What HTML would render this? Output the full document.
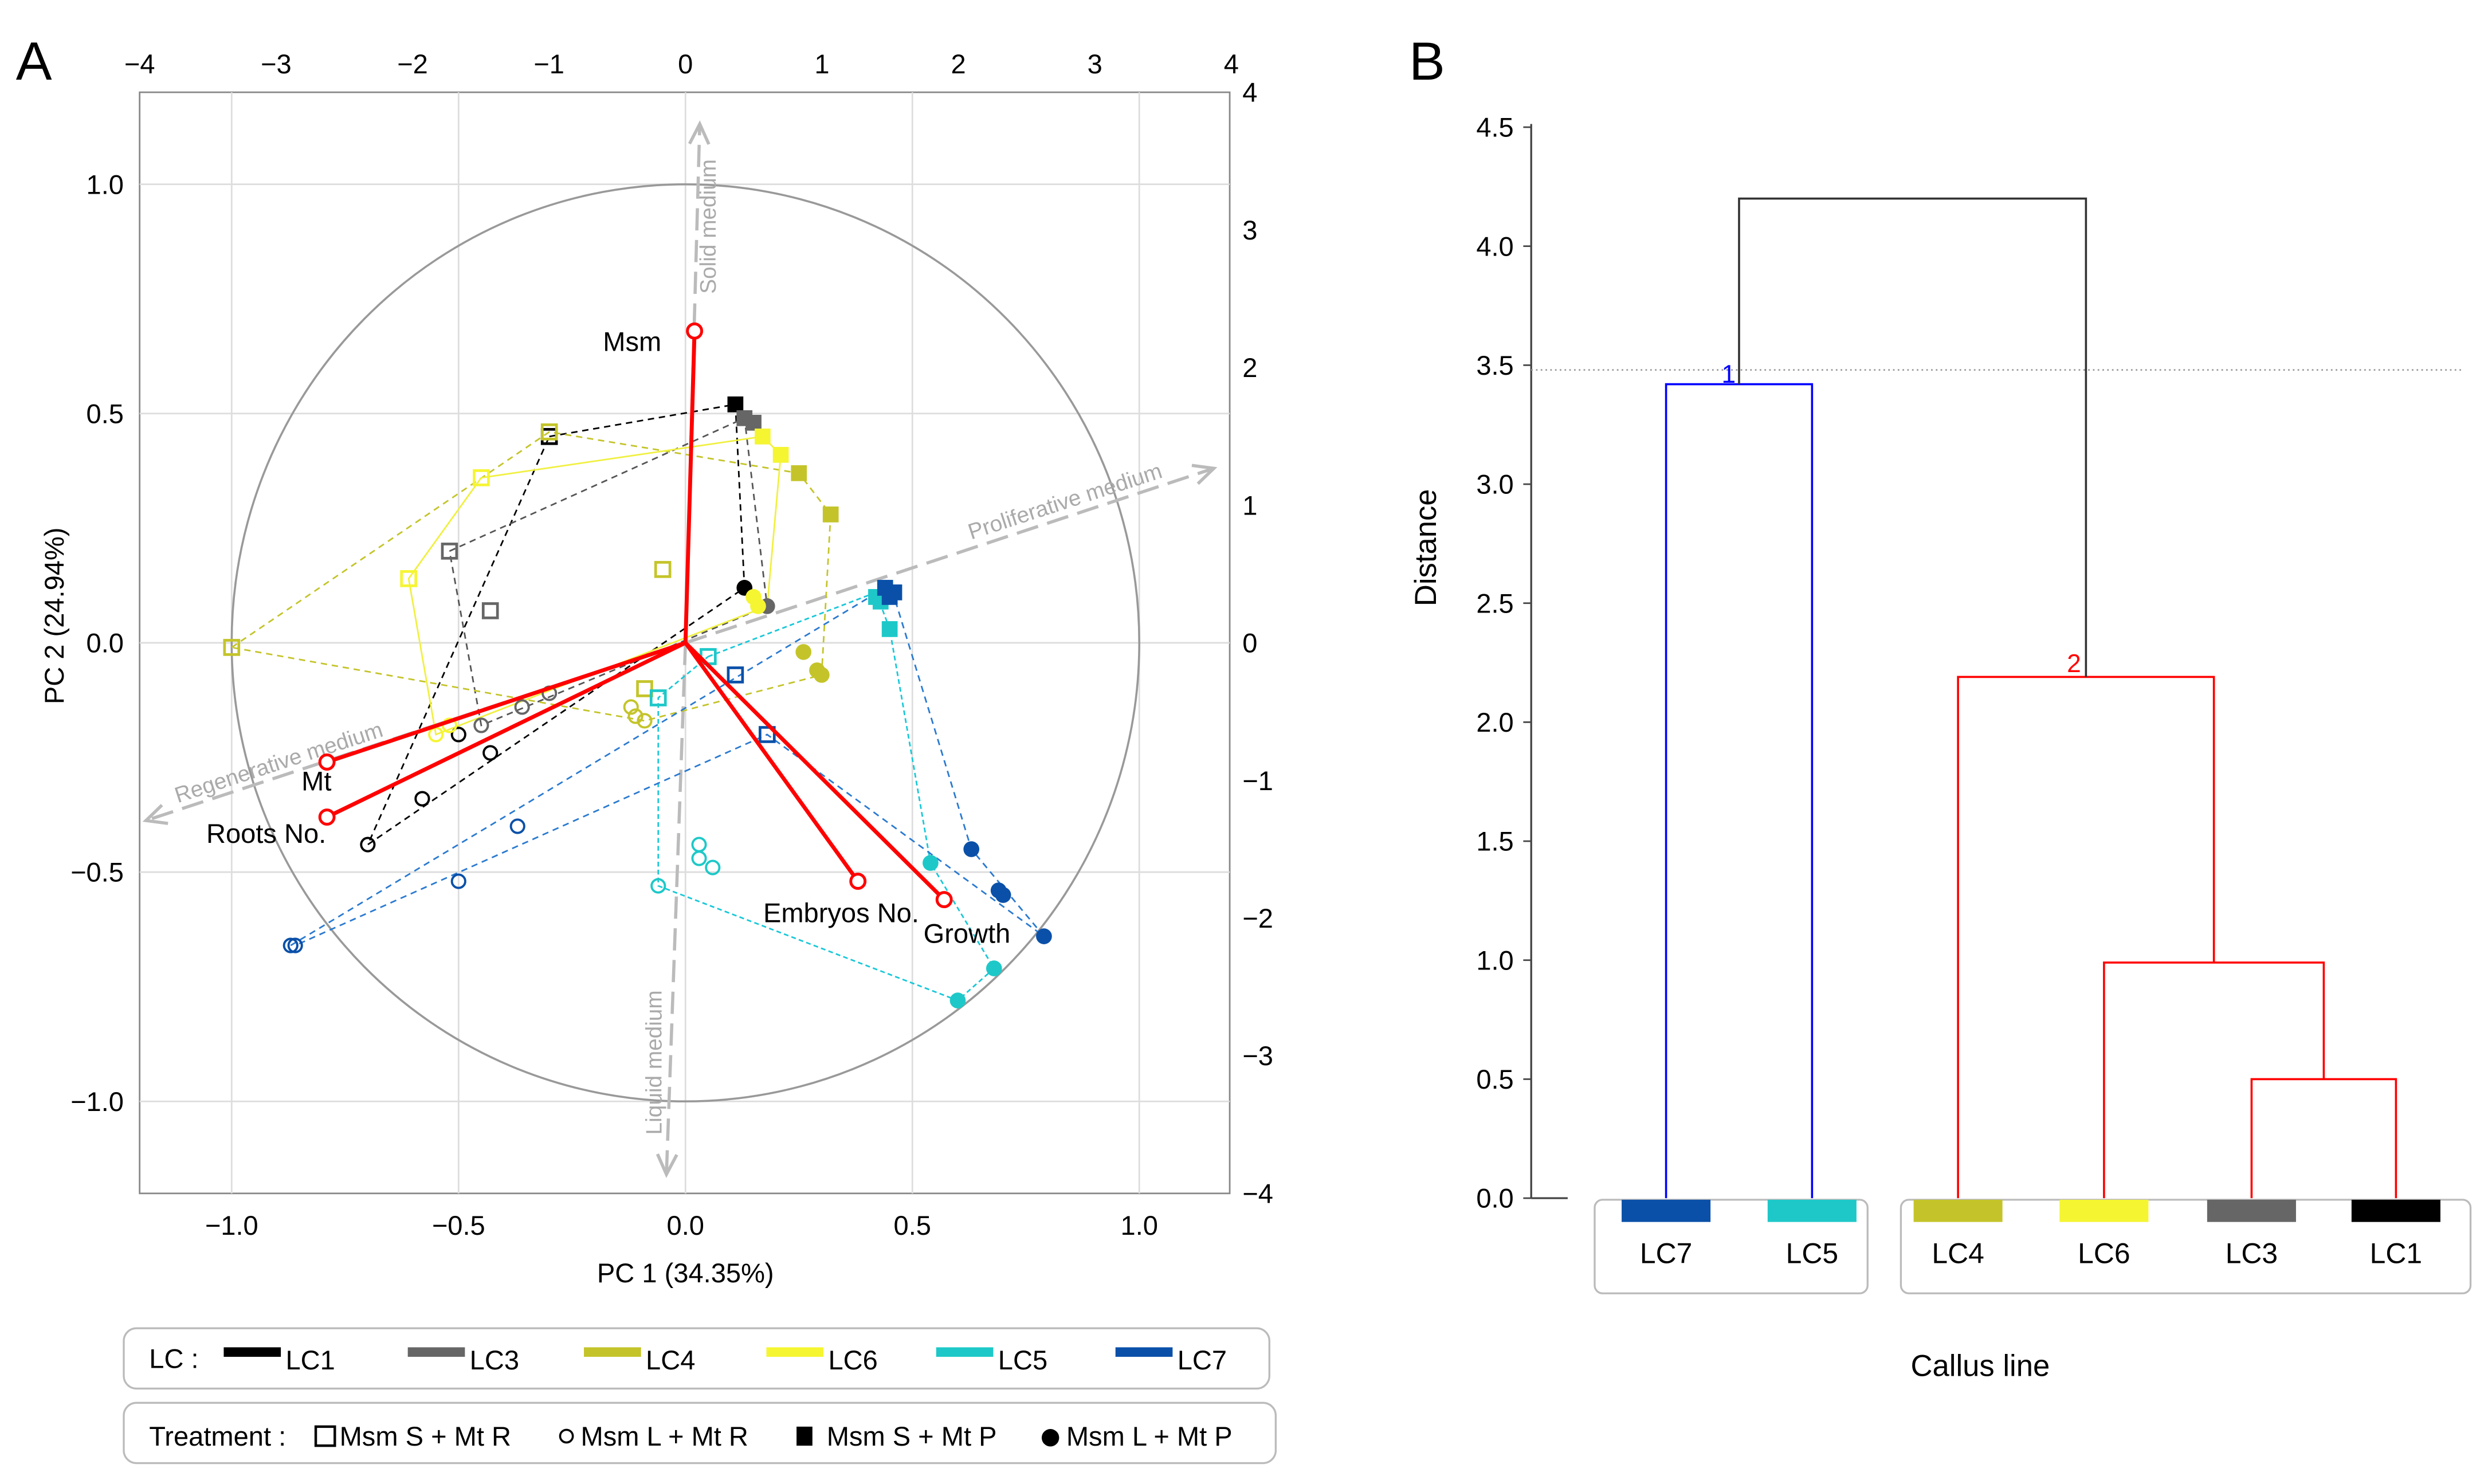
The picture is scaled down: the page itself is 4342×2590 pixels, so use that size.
<!DOCTYPE html>
<html><head><meta charset="utf-8"><style>html,body{margin:0;padding:0;background:#fff}svg{display:block}text{font-family:"Liberation Sans",Arial,sans-serif}</style></head>
<body>
<svg id="s" width="4342" height="2590" viewBox="0 0 1568 935" xmlns="http://www.w3.org/2000/svg">
<rect width="1568" height="935" fill="#fff"/>
<g id="A"></g>
<g id="B"></g>
</svg>
<script>
const pcTicks=[-1.0,-0.5,0.0,0.5,1.0];
const scoreTicks=[-4,-3,-2,-1,0,1,2,3,4];
const lcNames=['LC1','LC3','LC4','LC6','LC5','LC7'];
const lcColors=['#000000','#666666','#c4c42a','#f5f532','#1ec8c8','#0a50a8'];
const lineColors=['#000000','#555555','#c4c42a','#f0f040','#18c8d8','#2a7ad0'];
const lcDash=['4,3','4,3','4,3','','3,2','4,3'];
const ptsLC1=[[-0.30,0.45,'s'],[0.11,0.52,'S'],[0.13,0.12,'C'],[-0.50,-0.20,'c'],[-0.43,-0.24,'c'],[-0.58,-0.34,'c'],[-0.70,-0.44,'c']];
const ptsLC3=[[-0.52,0.20,'s'],[-0.43,0.07,'s'],[0.13,0.49,'S'],[0.15,0.48,'S'],[0.18,0.08,'C'],[-0.30,-0.11,'c'],[-0.36,-0.14,'c'],[-0.45,-0.18,'c']];
const ptsLC4=[[-1.0,-0.01,'s'],[-0.30,0.46,'s'],[-0.05,0.16,'s'],[-0.09,-0.10,'s'],[0.25,0.37,'S'],[0.32,0.28,'S'],[0.26,-0.02,'C'],[0.29,-0.06,'C'],[0.30,-0.07,'C'],[-0.12,-0.14,'c'],[-0.11,-0.16,'c'],[-0.09,-0.17,'c']];
const ptsLC6=[[-0.45,0.36,'s'],[-0.61,0.14,'s'],[0.17,0.45,'S'],[0.21,0.41,'S'],[0.15,0.10,'C'],[0.16,0.08,'C'],[-0.55,-0.20,'c'],[-0.52,-0.18,'c']];
const ptsLC5=[[0.05,-0.03,'s'],[-0.06,-0.12,'s'],[0.42,0.10,'S'],[0.43,0.09,'S'],[0.45,0.03,'S'],[0.54,-0.48,'C'],[0.68,-0.71,'C'],[0.60,-0.78,'C'],[0.03,-0.44,'c'],[0.03,-0.47,'c'],[0.06,-0.49,'c'],[-0.06,-0.53,'c']];
const ptsLC7=[[0.11,-0.07,'s'],[0.18,-0.20,'s'],[0.44,0.12,'S'],[0.45,0.10,'S'],[0.46,0.11,'S'],[0.63,-0.45,'C'],[0.69,-0.54,'C'],[0.70,-0.55,'C'],[0.79,-0.64,'C'],[-0.87,-0.66,'c'],[-0.86,-0.66,'c'],[-0.50,-0.52,'c'],[-0.37,-0.40,'c']];
const hullLC1=[[-0.30,0.45],[0.11,0.52],[0.13,0.12],[-0.70,-0.44],[-0.30,0.45]];
const hullLC3=[[-0.52,0.20],[0.13,0.49],[0.18,0.08],[-0.45,-0.18],[-0.52,0.20]];
const hullLC4=[[-1.0,-0.01],[-0.30,0.46],[0.25,0.37],[0.32,0.28],[0.30,-0.07],[-0.09,-0.17],[-1.0,-0.01]];
const hullLC6=[[-0.45,0.36],[0.17,0.45],[0.21,0.41],[0.18,0.08],[-0.55,-0.20],[-0.61,0.14],[-0.45,0.36]];
const hullLC5=[[0.05,-0.03],[0.42,0.11],[0.45,0.03],[0.54,-0.48],[0.68,-0.71],[0.60,-0.78],[-0.06,-0.53],[-0.06,-0.12],[0.05,-0.03]];
const hullLC7=[[-0.87,-0.66],[0.44,0.12],[0.46,0.10],[0.63,-0.45],[0.79,-0.64],[0.18,-0.20],[-0.86,-0.66]];
const varNames=['Msm','Mt','Roots No.','Embryos No.','Growth'];
const varX=[0.02,-0.79,-0.79,0.38,0.57];
const varY=[0.68,-0.26,-0.38,-0.52,-0.56];
const leafNames=['LC7','LC5','LC4','LC6','LC3','LC1'];
const leafColors=['#0a50a8','#1ec8c8','#c4c42a','#f5f532','#666666','#000000'];
const distTicks=[0.0,0.5,1.0,1.5,2.0,2.5,3.0,3.5,4.0,4.5];
const mergeLC3LC1=0.50, mergeLC6=0.99, mergeLC4=2.19, mergeLC7LC5=3.42, mergeTop=4.20, cutHeight=3.48;

const NS='http://www.w3.org/2000/svg';
function mk(p,t,a,txt){const e=document.createElementNS(NS,t);for(const k in a)e.setAttribute(k,a[k]);if(txt!==undefined)e.textContent=txt;p.appendChild(e);return e;}
const X=v=>432+286*v, Y=v=>405-289*v, TX=v=>432+86*v, TY=v=>405-86.75*v;
const A=document.getElementById('A');
let fr=mk(A,'rect',{x:88,y:58,width:687,height:694,fill:'none',stroke:'#888','stroke-width':1});

pcTicks.forEach(v=>{
 let g=mk(A,'line',{x1:X(v),x2:X(v),y1:58,y2:752,stroke:'#ddd','stroke-width':1});
 
 g=mk(A,'line',{x1:88,x2:775,y1:Y(v),y2:Y(v),stroke:'#ddd','stroke-width':1});
 
 let t=mk(A,'text',{x:X(v),y:778,'font-size':17,'text-anchor':'middle'},v.toFixed(1).replace('-','−'));
 
 t=mk(A,'text',{x:78,y:Y(v)+6,'font-size':17,'text-anchor':'end'},v.toFixed(1).replace('-','−'));
 
});
scoreTicks.forEach(v=>{
 let t=mk(A,'text',{x:TX(v),y:46,'font-size':17,'text-anchor':'middle'},String(v).replace('-','−'));
 
 t=mk(A,'text',{x:783,y:TY(v)+6,'font-size':17},String(v).replace('-','−'));
 
});
let c=mk(A,'ellipse',{cx:X(0),cy:Y(0),rx:286,ry:289,fill:'none',stroke:'#999','stroke-width':1.3});

const med=[['Solid medium',441,78,451,185,-90],['Liquid medium',420,740,417,715,-90],['Proliferative medium',765,295,612,340,-18],['Regenerative medium',92,517,112,506,-18]];
med.forEach(m=>{
 let l=mk(A,'line',{x1:432,y1:405,x2:m[1],y2:m[2],stroke:'#bbb','stroke-width':2,'stroke-dasharray':'14,6'});
 
 const ang=Math.atan2(m[2]-405,m[1]-432);
 const p=[[m[1],m[2]],[m[1]-14*Math.cos(ang-0.45),m[2]-14*Math.sin(ang-0.45)],[m[1]-14*Math.cos(ang+0.45),m[2]-14*Math.sin(ang+0.45)]];
 let h=mk(A,'polyline',{points:`${p[1]} ${p[0]} ${p[2]}`,fill:'none',stroke:'#bbb','stroke-width':2});
 
 let t=mk(A,'text',{x:m[3],y:m[4],'font-size':14,fill:'#aaa',transform:`rotate(${m[5]} ${m[3]} ${m[4]})`},m[0]);
 
});
const pts=[ptsLC1,ptsLC3,ptsLC4,ptsLC6,ptsLC5,ptsLC7], hulls=[hullLC1,hullLC3,hullLC4,hullLC6,hullLC5,hullLC7];
hulls.forEach((h,i)=>{
 let p=mk(A,'polyline',{points:h.map(q=>X(q[0])+','+Y(q[1])).join(' '),fill:'none',stroke:lineColors[i],'stroke-width':1,'stroke-dasharray':lcDash[i]});
 
});
pts.forEach((ps,i)=>ps.forEach(q=>{
 const x=X(q[0]),y=Y(q[1]),col=lcColors[i];let e;
 if(q[2]==='s')e=mk(A,'rect',{x:x-4.5,y:y-4.5,width:9,height:9,fill:'none',stroke:col,'stroke-width':1.7});
 else if(q[2]==='S')e=mk(A,'rect',{x:x-5,y:y-5,width:10,height:10,fill:col});
 else if(q[2]==='c')e=mk(A,'circle',{cx:x,cy:y,r:4.2,fill:'none',stroke:col,'stroke-width':1.4});
 else e=mk(A,'circle',{cx:x,cy:y,r:5,fill:col});
 
 
}));
const lab=[[380,221,'start'],[190,498,'start'],[130,531,'start'],[481,581,'start'],[582,594,'start']];
varNames.forEach((n,i)=>{
 let l=mk(A,'line',{x1:X(0),y1:Y(0),x2:X(varX[i]),y2:Y(varY[i]),stroke:'#ff0000','stroke-width':2.5});
 
 let e=mk(A,'circle',{cx:X(varX[i]),cy:Y(varY[i]),r:4.5,fill:'#fff',stroke:'#ff0000','stroke-width':1.8});
 
 let t=mk(A,'text',{x:lab[i][0],y:lab[i][1],'font-size':17},n);
 
});
let t=mk(A,'text',{x:432,y:808,'font-size':17,'text-anchor':'middle'},'PC 1 (34.35%)');

t=mk(A,'text',{x:40,y:388,'font-size':17,'text-anchor':'middle',transform:'rotate(-90 40 388)'},'PC 2 (24.94%)');

t=mk(A,'text',{x:10,y:50,'font-size':34},'A');

let r=mk(A,'rect',{x:78,y:837,width:722,height:38,rx:8,fill:'#fff',stroke:'#bbb','stroke-width':1.2});

t=mk(A,'text',{x:94,y:862,'font-size':17},'LC :');
const lgx=[141,257,368,483,590,703];
lcNames.forEach((n,i)=>{
 let e=mk(A,'rect',{x:lgx[i],y:849,width:36,height:6,fill:lcColors[i]});
 
 let tt=mk(A,'text',{x:lgx[i]+39,y:863,'font-size':17},n);
 
});
r=mk(A,'rect',{x:78,y:884,width:726,height:38,rx:8,fill:'#fff',stroke:'#bbb','stroke-width':1.2});

t=mk(A,'text',{x:94,y:911,'font-size':17},'Treatment :');
let e=mk(A,'rect',{x:199,y:899,width:12,height:12,fill:'none',stroke:'#000','stroke-width':1.6});
t=mk(A,'text',{x:214,y:911,'font-size':17},'Msm S + Mt R');
e=mk(A,'circle',{cx:357,cy:905,r:4,fill:'none',stroke:'#000','stroke-width':1.3});
t=mk(A,'text',{x:366,y:911,'font-size':17},'Msm L + Mt R');
e=mk(A,'rect',{x:502,y:899,width:10,height:12,fill:'#000'});
t=mk(A,'text',{x:521,y:911,'font-size':17},'Msm S + Mt P');
e=mk(A,'circle',{cx:662,cy:906,r:5.5,fill:'#000'});
t=mk(A,'text',{x:672,y:911,'font-size':17},'Msm L + Mt P');

const B=document.getElementById('B');
const DY=v=>755-150*v;
const LX=[1050,1142,1234,1326,1419,1510];
let ax=mk(B,'line',{x1:965,y1:DY(4.5)-2,x2:965,y2:755,stroke:'#444','stroke-width':1.2});

ax=mk(B,'line',{x1:965,y1:755,x2:988,y2:755,stroke:'#444','stroke-width':1.2});

distTicks.forEach(v=>{
 let l=mk(B,'line',{x1:960,x2:965,y1:DY(v),y2:DY(v),stroke:'#444'});
 
 let tt=mk(B,'text',{x:954,y:DY(v)+6,'font-size':17,'text-anchor':'end'},v.toFixed(1));
 
});
let cut=mk(B,'line',{x1:965,x2:1552,y1:DY(cutHeight),y2:DY(cutHeight),stroke:'#999','stroke-width':1,'stroke-dasharray':'1,2'});

function U(x1,x2,h,yl,yr,col,name){let p=mk(B,'polyline',{points:`${x1},${yl} ${x1},${DY(h)} ${x2},${DY(h)} ${x2},${yr}`,fill:'none',stroke:col,'stroke-width':1.3});}
const m31=(LX[4]+LX[5])/2, m6=(LX[3]+m31)/2, m4=(LX[2]+m6)/2, m75=(LX[0]+LX[1])/2;
U(LX[0],LX[1],mergeLC7LC5,755,755,'#0000ff','cluster1-link');
U(LX[4],LX[5],mergeLC3LC1,755,755,'#ff0000','lc3-lc1-link');
U(LX[3],m31,mergeLC6,755,DY(mergeLC3LC1),'#ff0000','lc6-link');
U(LX[2],m6,mergeLC4,755,DY(mergeLC6),'#ff0000','cluster2-link');
U(m75,m4,mergeTop,DY(mergeLC7LC5),DY(mergeLC4),'#333','root-link');
t=mk(B,'text',{x:m75-11,y:DY(mergeLC7LC5)-1,'font-size':16,fill:'#0000ff'},'1');
t=mk(B,'text',{x:m4-12,y:DY(mergeLC4)-3,'font-size':16,fill:'#ff0000'},'2');
r=mk(B,'rect',{x:1005,y:756,width:172,height:59,rx:5,fill:'none',stroke:'#bbb','stroke-width':1.2});
r=mk(B,'rect',{x:1198,y:756,width:359,height:59,rx:5,fill:'none',stroke:'#bbb','stroke-width':1.2});
leafNames.forEach((n,i)=>{
 let e=mk(B,'rect',{x:LX[i]-28,y:756,width:56,height:14,fill:leafColors[i]});
 
 let tt=mk(B,'text',{x:LX[i],y:796,'font-size':18,'text-anchor':'middle'},n);
 
});
t=mk(B,'text',{x:1248,y:867,'font-size':19,'text-anchor':'middle'},'Callus line');
t=mk(B,'text',{x:905,y:345,'font-size':19,'text-anchor':'middle',transform:'rotate(-90 905 345)'},'Distance');
t=mk(B,'text',{x:888,y:50,'font-size':34},'B');
</script>
</body></html>
